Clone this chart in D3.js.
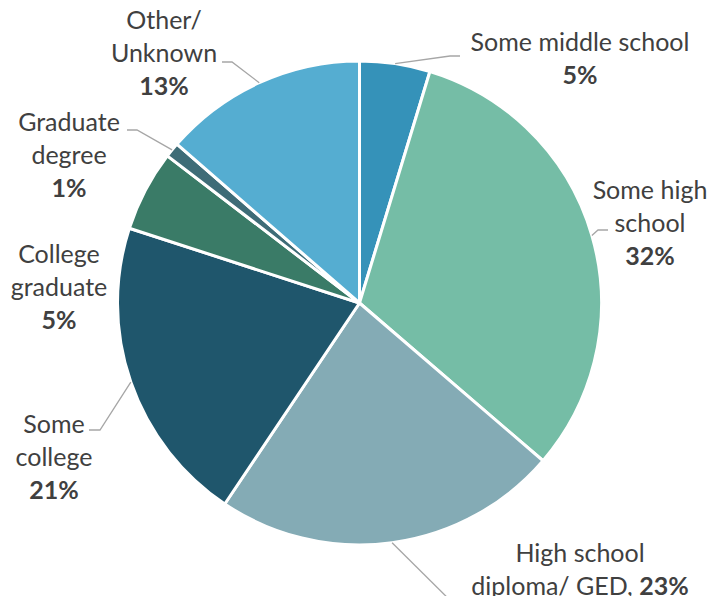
<!DOCTYPE html>
<html><head><meta charset="utf-8">
<script src="https://cdn.jsdelivr.net/npm/d3@7"></script>
<style>body{margin:0;background:#fff}svg{display:block}</style>
</head><body>
<svg id="c" width="720" height="596"></svg>
<script>
const categories = ["Some middle school","Some high school","High school diploma/ GED","Some college","College graduate","Graduate degree","Other/ Unknown"];
const values = [4.7, 31.6, 23.1, 20.6, 5.4, 1.0, 13.6];
const pctLabels = ["5%","32%","23%","21%","5%","1%","13%"];
const colors = ["#3592B9","#75BDA6","#84ABB5","#1F566C","#3A7B67","#3E6C77","#55ADD1"];

// label layout (text lines, positions, leader elbow)
const labelLayout = [
  {lines:[["Some middle school"],[null,true]], x:580, y:51, elbow:[450,56], end:[460,56]},
  {lines:[["Some high"],["school"],[null,true]], x:650, y:199, elbow:[598,230], end:[608,230]},
  {lines:[["High school"],["diploma/ GED, ", "pct"]], x:580, y:562, elbow:[470,620], end:null},
  {lines:[["Some"],["college"],[null,true]], x:54, y:433, elbow:[100,430], end:[89,430]},
  {lines:[["College"],["graduate"],[null,true]], x:59, y:263, elbow:null, end:null},
  {lines:[["Graduate"],["degree"],[null,true]], x:69, y:131, elbow:[137,130], end:[127,130]},
  {lines:[["Other/"],["Unknown"],[null,true]], x:164, y:29, elbow:[232,62], end:[222,62]}
];

const svg = d3.select("#c");
const cx = 359.5, cy = 303, R = 242;
const g = svg.append("g").attr("transform",`translate(${cx},${cy})`);
const pie = d3.pie().sort(null).value(d=>d)(values);
const arc = d3.arc().innerRadius(0).outerRadius(R);

g.selectAll("path.s").data(pie).join("path")
  .attr("d",arc).attr("fill",(d,i)=>colors[i])
  .attr("stroke","#fff").attr("stroke-width",3).attr("stroke-linejoin","round");

// leader lines
pie.forEach((d,i)=>{
  const L = labelLayout[i];
  if(!L.elbow) return;
  const a = (d.startAngle+d.endAngle)/2;
  const p0 = [cx + R*Math.sin(a), cy - R*Math.cos(a)];
  const pts = [p0, L.elbow];
  if(L.end) pts.push(L.end);
  svg.append("path").attr("d", d3.line()(pts))
    .attr("fill","none").attr("stroke","#A6A6A6").attr("stroke-width",1.3);
});

const lh = 33;
labelLayout.forEach((L,i)=>{
  L.lines.forEach((ln,k)=>{
    const t = svg.append("text").attr("x",L.x).attr("y",L.y+k*lh)
      .attr("text-anchor","middle").attr("font-family","Lato, 'Open Sans', sans-serif")
      .attr("font-size",25).attr("fill","#404040");
    if(ln[0]===null){
      t.attr("font-weight","bold").text(pctLabels[i]);
    } else {
      t.append("tspan").text(ln[0]);
      if(ln[1]==="pct") t.append("tspan").attr("font-weight","bold").text(pctLabels[i]);
    }
  });
});
</script>
</body></html>
